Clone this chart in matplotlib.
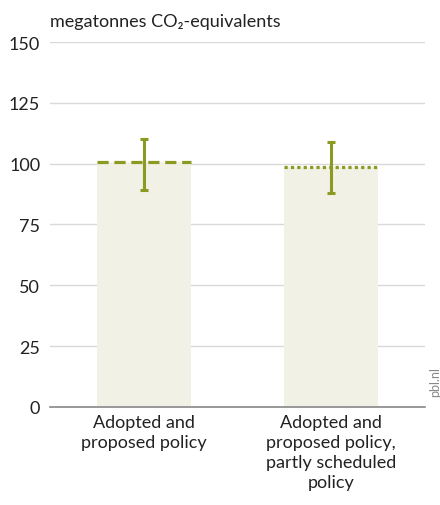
import numpy as np
import matplotlib.pyplot as plt

plt.rcParams['font.family'] = ['Lato', 'DejaVu Sans']

# data
categories = ['Adopted and\nproposed policy',
              'Adopted and\nproposed policy,\npartly scheduled\npolicy']
values = [100.8, 98.5]
err_low = [89.2, 87.8]
err_high = [110.1, 108.8]
line_styles = [(0, (3.5, 1.8)), (0, (1.0, 1.0))]
yticks = [0, 25, 50, 75, 100, 125, 150]

olive = '#8d9a22'
bar_color = '#f1f1e5'

fig = plt.figure(figsize=(4.4, 5.06), dpi=100)
ax = fig.add_axes([0.1136, 0.1937, 0.8523, 0.7213])

x = np.arange(len(categories))
width = 0.5
ax.bar(x, values, width=width, color=bar_color, zorder=2)

# level lines on top of the bars
for xi, v, ls in zip(x, values, line_styles):
    ax.hlines(v, xi - width / 2, xi + width / 2, colors=olive,
              linestyles=[ls], linewidth=2.3, zorder=3)

# uncertainty ranges
lo = np.array(values) - np.array(err_low)
hi = np.array(err_high) - np.array(values)
ax.errorbar(x, values, yerr=[lo, hi], fmt='none', ecolor=olive,
            elinewidth=2.2, capsize=3, capthick=2.2, zorder=4)

ax.set_xlim(-0.5, 1.5)
ax.set_ylim(0, 150)
ax.set_yticks(yticks)
ax.set_xticks(x)
ax.set_xticklabels(categories, fontsize=13, color='#222222', linespacing=1.3)
ax.tick_params(axis='both', length=0, labelsize=13, colors='#222222')
ax.tick_params(axis='y', pad=7)
ax.tick_params(axis='x', pad=5)

ax.grid(axis='y', color='#d9d9d9', linewidth=1, zorder=0)
ax.set_axisbelow(True)
for s in ['top', 'right', 'left']:
    ax.spines[s].set_visible(False)
ax.spines['bottom'].set_color('#888888')
ax.spines['bottom'].set_linewidth(1.2)
ax.spines['bottom'].set_zorder(5)

fig.text(0.1136, 0.957, 'megatonnes CO\u2082-equivalents', fontsize=13,
         color='#222222', ha='left', va='center')
fig.text(0.975, 0.245, 'pbl.nl', rotation=90, fontsize=9, color='#888888',
         ha='left', va='center')

fig.savefig('out.png', dpi=100)
